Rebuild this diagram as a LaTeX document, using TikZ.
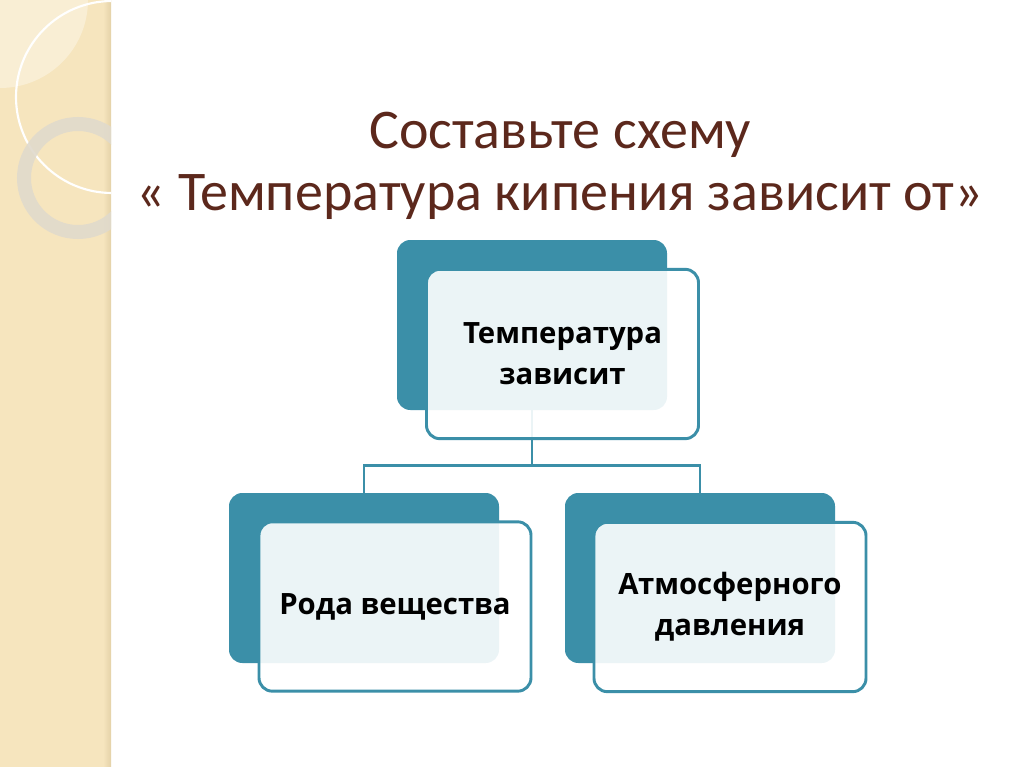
\documentclass[tikz,border=0pt]{standalone}
\usepackage{fontspec}
\setmainfont{Carlito}
\newfontfamily\boxfont{Open Sans}
\usetikzlibrary{positioning}
\definecolor{tealbox}{RGB}{59,143,168}
\definecolor{titlebrown}{RGB}{92,40,28}
\definecolor{bandbeige}{RGB}{246,229,190}
\definecolor{bandedge}{RGB}{228,210,168}
\definecolor{ringgrey}{RGB}{224,218,204}
\tikzset{
  backbox/.style={rounded corners=10pt,fill=tealbox,minimum width=202.5pt,minimum height=127.5pt,inner sep=0pt},
  frontbox/.style={rounded corners=10pt,draw=tealbox,line width=2.2pt,fill=white,fill opacity=0.9,text opacity=1,
    minimum width=204pt,minimum height=127pt,inner sep=0pt,align=center,
    font=\boxfont\bfseries\fontsize{22pt}{31pt}\selectfont},
  link/.style={draw=tealbox,line width=2.2pt}
}
\begin{document}
\begin{tikzpicture}[x=0.75pt,y=-0.75pt]
  \useasboundingbox (0,0) rectangle (1024,767);
  \fill[white] (0,0) rectangle (1024,767);
  % left band
  \fill[bandbeige] (0,0) rectangle (111,767);
  \shade[left color=bandbeige,right color=bandedge] (103,0) rectangle (111,767);
  \begin{scope}
    \clip (0,0) rectangle (111,767);
    \fill[white,opacity=0.35] (0,0) circle (88);
    \draw[white,line width=1.6pt] (112,97) circle (96);
    \draw[ringgrey,opacity=0.9,line width=10.5pt] (78,178) circle (54);
  \end{scope}
  % title
  \node[text=titlebrown,font=\fontsize{42pt}{47pt}\selectfont,align=center] (title) at (560,166)
    {Составьте схему\\« Температура кипения зависит от»};
  % back boxes
  \node[backbox] (dtop) at (532,325) {};
  \node[backbox] (dleft) at (364,578) {};
  \node[backbox] (dright) at (700,578) {};
  % connectors
  \draw[link] (dtop.south) -- ++(0,55) -| (dleft.north);
  \draw[link] (dtop.south) -- ++(0,55) -| (dright.north);
  % front boxes
  \node[frontbox] (ftop) at (562.5,354) {Температура\\зависит};
  \node[frontbox] (fleft) at (395,606.5) {Рода вещества};
  \node[frontbox] (fright) at (730,607) {Атмосферного\\давления};
\end{tikzpicture}
\end{document}
